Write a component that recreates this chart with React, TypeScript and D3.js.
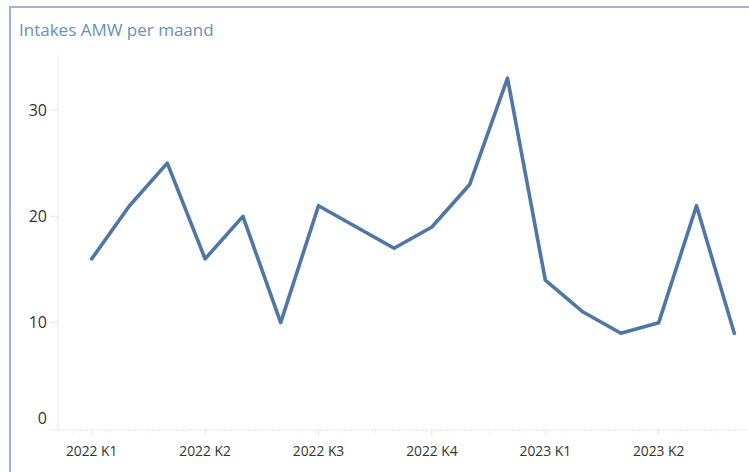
import { useEffect, useRef } from 'react'
import * as d3 from 'd3'

const months = [
  '2022-01', '2022-02', '2022-03', '2022-04', '2022-05', '2022-06',
  '2022-07', '2022-08', '2022-09', '2022-10', '2022-11', '2022-12',
  '2023-01', '2023-02', '2023-03', '2023-04', '2023-05', '2023-06',
]
const intakes = [16, 21, 25, 16, 20, 10, 21, 19, 17, 19, 23, 33, 14, 11, 9, 10, 21, 9]
const quarterStarts = ['2022-01', '2022-04', '2022-07', '2022-10', '2023-01', '2023-04']
const quarterLabels = ['2022 K1', '2022 K2', '2022 K3', '2022 K4', '2023 K1', '2023 K2']
const yTicks = [0, 10, 20, 30]

const W = 749
const H = 472

export default function App() {
  const svgRef = useRef<SVGSVGElement>(null)

  useEffect(() => {
    if (!svgRef.current) return
    const svg = d3.select(svgRef.current)
    svg.selectAll('*').remove()

    const font = "'Open Sans', 'Noto Sans', sans-serif"
    const axisX = 58
    const baseY = 430

    const x = d3.scalePoint<string>().domain(months).range([91.7, 734.3])
    const y = d3.scaleLinear().domain([0, 30]).range([429, 110])

    // frame
    svg.append('rect')
      .attr('x', 10).attr('y', 7)
      .attr('width', W + 20).attr('height', H + 20)
      .attr('fill', 'white')
      .attr('stroke', '#9db5d2')
      .attr('stroke-width', 2)

    svg.append('text')
      .attr('x', 19).attr('y', 36)
      .attr('fill', '#6c8fb9')
      .attr('font-family', font)
      .attr('font-size', 17)
      .text('Intakes AMW per maand')

    // y axis line
    svg.append('line')
      .attr('x1', axisX).attr('x2', axisX)
      .attr('y1', 55).attr('y2', baseY)
      .attr('stroke', '#ececec').attr('stroke-width', 1)

    const yg = svg.append('g')
    yg.selectAll('line')
      .data(yTicks.filter(d => d > 0))
      .enter().append('line')
      .attr('x1', 50).attr('x2', axisX)
      .attr('y1', d => y(d)).attr('y2', d => y(d))
      .attr('stroke', '#e6e6e6')
    yg.selectAll('text')
      .data(yTicks)
      .enter().append('text')
      .attr('x', 47)
      .attr('y', d => (d === 0 ? y(d) - 11 : y(d)))
      .attr('dy', '0.35em')
      .attr('text-anchor', 'end')
      .attr('fill', '#333')
      .attr('font-family', font)
      .attr('font-size', 16)
      .text(d => d)

    // baseline
    svg.append('line')
      .attr('x1', 50).attr('x2', W)
      .attr('y1', baseY).attr('y2', baseY)
      .attr('stroke', '#e2e2e2')
      .attr('stroke-dasharray', '2,1')

    const xg = svg.append('g')
    xg.selectAll('line.minor')
      .data(months)
      .enter().append('line')
      .attr('class', 'minor')
      .attr('x1', d => x(d)! - 18.9).attr('x2', d => x(d)! - 18.9)
      .attr('y1', baseY).attr('y2', baseY + 3)
      .attr('stroke', '#eeeeee')
    xg.selectAll('line.major')
      .data(quarterStarts)
      .enter().append('line')
      .attr('class', 'major')
      .attr('x1', d => x(d)!).attr('x2', d => x(d)!)
      .attr('y1', baseY).attr('y2', baseY + 5)
      .attr('stroke', '#e4e4e4')
    xg.selectAll('text')
      .data(quarterStarts)
      .enter().append('text')
      .attr('x', d => x(d)!)
      .attr('y', 456)
      .attr('text-anchor', 'middle')
      .attr('fill', '#333')
      .attr('font-family', font)
      .attr('font-size', 13.8)
      .text((_, i) => quarterLabels[i])

    const line = d3.line<number>()
      .x((_, i) => x(months[i])!)
      .y(d => y(d))

    svg.append('path')
      .datum(intakes)
      .attr('fill', 'none')
      .attr('stroke', '#4e77a5')
      .attr('stroke-width', 3.6)
      .attr('stroke-linejoin', 'round')
      .attr('stroke-linecap', 'round')
      .attr('d', line)
  }, [])

  return (
    <svg
      ref={svgRef}
      width={W}
      height={H}
      style={{ position: 'absolute', left: 0, top: 0, display: 'block' }}
    />
  )
}
